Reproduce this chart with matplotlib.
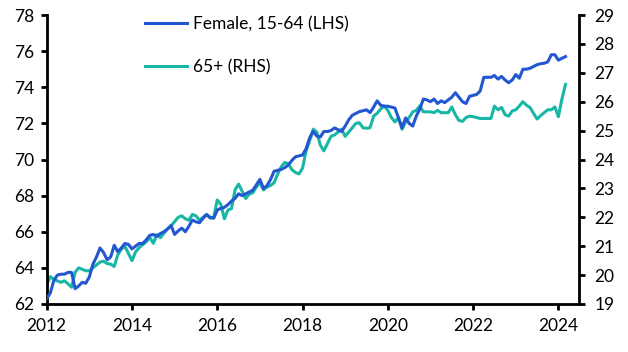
import matplotlib
matplotlib.use("Agg")
import matplotlib.pyplot as plt
import numpy as np

plt.rcParams['font.family'] = ['Lato', 'DejaVu Sans']

start_year = 2012
female_lhs = [
    62.3, 62.6, 63.3, 63.6, 63.65, 63.65, 63.75, 63.75, 62.85, 63.0, 63.2, 63.15,
    63.5, 64.2, 64.6, 65.1, 64.85, 64.45, 64.6, 65.25, 64.9, 65.1, 65.35, 65.3,
    65.05, 65.2, 65.35, 65.35, 65.55, 65.8, 65.85, 65.75, 65.9, 66.0, 66.15, 66.35,
    65.85, 66.05, 66.2, 66.0, 66.3, 66.65, 66.55, 66.5, 66.75, 66.95, 66.8, 66.75,
    67.2, 67.3, 67.35, 67.5, 67.7, 67.85, 68.1, 68.0, 68.1, 68.2, 68.3, 68.6,
    68.9, 68.4, 68.55, 68.9, 69.35, 69.4, 69.45, 69.55, 69.7, 69.95, 70.15, 70.2,
    70.25, 70.6, 71.2, 71.55, 71.3, 71.25, 71.55, 71.55, 71.6, 71.75, 71.65, 71.55,
    71.85, 72.2, 72.45, 72.55, 72.65, 72.7, 72.75, 72.6, 72.9, 73.25, 73.0, 72.95,
    72.95, 72.9, 72.85, 72.3, 71.75, 72.3, 72.0, 71.85, 72.4, 72.8, 73.35, 73.3,
    73.2, 73.35, 73.1, 73.25, 73.15, 73.3, 73.45, 73.7, 73.45, 73.2, 73.1, 73.5,
    73.55, 73.6, 73.8, 74.55, 74.55, 74.55, 74.65, 74.45, 74.6, 74.4, 74.25, 74.4,
    74.7, 74.5, 75.0, 75.0, 75.05, 75.15, 75.25, 75.3, 75.33, 75.4, 75.8, 75.8,
    75.5, 75.6, 75.7,
]
over65_rhs = [
    19.66, 19.95, 19.85, 19.8, 19.75, 19.8, 19.7, 19.58, 20.1, 20.25, 20.2, 20.15,
    20.15, 20.25, 20.35, 20.45, 20.48, 20.4, 20.38, 20.3, 20.7, 20.9, 21.0, 20.75,
    20.5, 20.8, 20.95, 21.05, 21.15, 21.3, 21.1, 21.4, 21.3, 21.45, 21.6, 21.7,
    21.85, 22.0, 22.05, 21.95, 21.9, 22.1, 22.05, 21.9, 22.0, 22.1, 21.97, 22.0,
    22.6, 22.45, 21.95, 22.25, 22.3, 22.95, 23.15, 22.9, 22.65, 22.8, 22.85, 23.05,
    23.2, 22.95, 23.05, 23.1, 23.2, 23.5, 23.75, 23.9, 23.85, 23.65, 23.55, 23.5,
    23.7, 24.3, 24.65, 25.05, 24.95, 24.5, 24.3, 24.55, 24.8, 24.85, 24.95, 25.05,
    24.8, 24.95, 25.1, 25.25, 25.27, 25.1, 25.08, 25.1, 25.5, 25.6, 25.75, 25.85,
    25.7, 25.45, 25.3, 25.45, 25.05, 25.3, 25.45, 25.65, 25.7, 25.85, 25.65, 25.65,
    25.65, 25.62, 25.7, 25.62, 25.62, 25.62, 25.82, 25.55, 25.35, 25.32, 25.45, 25.5,
    25.48, 25.45, 25.42, 25.42, 25.42, 25.42, 25.85, 25.72, 25.8, 25.55, 25.5, 25.68,
    25.72, 25.85, 26.0, 25.88, 25.8, 25.6, 25.4, 25.52, 25.62, 25.72, 25.72, 25.82,
    25.48, 26.1, 26.6,
]
x_ticks = [2012, 2014, 2016, 2018, 2020, 2022, 2024]
left_ticks = [62, 64, 66, 68, 70, 72, 74, 76, 78]
right_ticks = [19, 20, 21, 22, 23, 24, 25, 26, 27, 28, 29]
labels = ["Female, 15-64 (LHS)", "65+ (RHS)"]

t = start_year + np.arange(len(female_lhs)) / 12.0

W, H = 628, 352
fig = plt.figure(figsize=(W / 100, H / 100), dpi=100)
ax = fig.add_axes([46.7 / W, 1 - 304 / H, (579.3 - 46.7) / W, (304 - 15) / H])
ax2 = ax.twinx()

blue = '#2257d1'
teal = '#17b7a6'
l1, = ax.plot(t, female_lhs, color=blue, lw=2.2, label=labels[0], zorder=3)
l2, = ax2.plot(t, over65_rhs, color=teal, lw=2.2, label=labels[1], zorder=2)

ax.set_zorder(ax2.get_zorder() + 1)
ax.patch.set_visible(False)

ax.set_xlim(2012, 2024.49)
ax.set_ylim(62, 78)
ax2.set_ylim(19, 29)
ax.set_xticks(x_ticks)
ax.set_yticks(left_ticks)
ax2.set_yticks(right_ticks)

for a in (ax, ax2):
    a.spines['top'].set_visible(False)
    for s in ('left', 'right', 'bottom'):
        a.spines[s].set_linewidth(2.0)
        a.spines[s].set_color('black')
    a.tick_params(axis='both', direction='out', length=4, width=2, labelsize=12.5, colors='black', pad=4)
ax.spines['right'].set_visible(False)
ax2.spines['left'].set_visible(False)
ax2.spines['bottom'].set_visible(False)
ax.tick_params(axis='y', pad=5)
ax.tick_params(axis='x', pad=6)
ax2.tick_params(axis='y', pad=7)

fig.legend(handles=[l1, l2], labels=labels, loc='upper left',
           bbox_to_anchor=(145 / W, 1 - 16 / H), frameon=False,
           fontsize=12.5, handlelength=2.4, handletextpad=0.35,
           labelspacing=1.55, borderpad=0, borderaxespad=0)

fig.savefig('out.png', dpi=100)
